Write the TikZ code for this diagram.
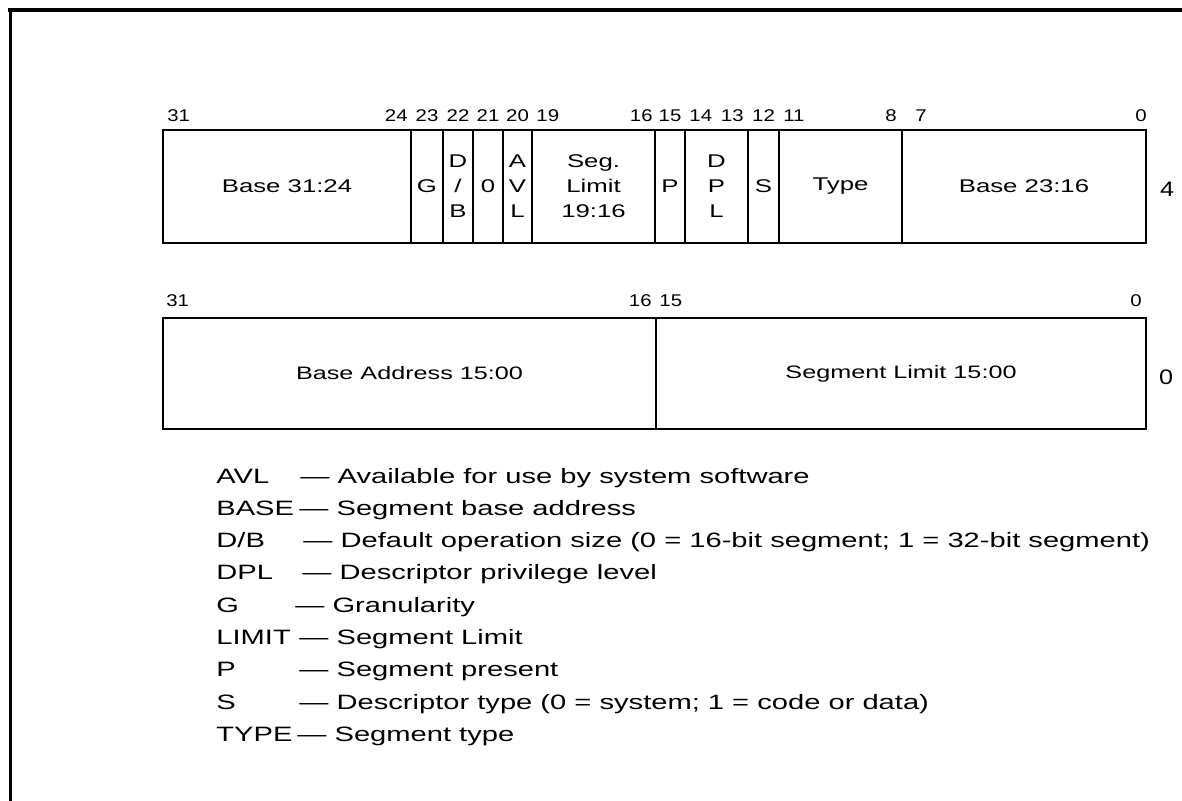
\documentclass[tikz,border=0pt]{standalone}
\usepackage{fontspec}
\setmainfont{Liberation Sans}[FakeStretch=1.4]
\newfontfamily\numfont{Liberation Sans}[FakeStretch=1.2]

\begin{document}
\begin{tikzpicture}[
  x=0.5pt, y=-0.5pt,
  box/.style={draw=black, line width=1pt},
  field/.style={font=\fontsize{9.2}{12.5}\selectfont, align=center, inner sep=0pt},
  wide/.style={font=\fontsize{9}{11}\selectfont, inner sep=0pt},
  bitno/.style={font=\numfont\fontsize{8.5}{10}\selectfont, inner sep=0pt},
  offs/.style={font=\numfont\fontsize{10.5}{12}\selectfont, inner sep=0pt},
  abbr/.style={font=\fontsize{10.4}{12}\selectfont, inner sep=0pt, anchor=base west}
]
\useasboundingbox (0,0) rectangle (1182,801);

% ---- page frame, open to the right and at the bottom
\draw[line width=2pt] (8,10) -- (1182,10);
\draw[line width=1.5pt] (10,9) -- (10,801);

% ---- upper doubleword (offset 4)
\foreach \l/\r/\txt [count=\i] in {163/411/{Base 31:24}, 411/443/G,
    443/473/{D\\/\\B}, 473/503/0, 503/532/{A\\V\\L},
    532/655/{Seg.\\Limit\\19:16}, 655/685/P, 685/748/{D\\P\\L},
    748/779/S, 779/902/Type, 902/1146/{Base 23:16}}
  {
  \draw[box] (\l,130) rectangle (\r,243);
  \node[field] (up\i) at ({(\l+\r)/2},186.5) {\txt};
  }

\foreach \x/\a/\n [count=\i] in {167/base west/31, 408/base east/24,
    427/base/23, 458/base/22, 488/base/21, 517.5/base/20,
    536/base west/19, 653/base east/16, 670/base/15, 689/base west/14,
    744/base east/13, 763.5/base/12, 783/base west/11, 897/base east/8,
    915/base west/7, 1147/base east/0}
  \node[bitno, anchor=\a] (ub\i) at (\x,121.5) {\n};

\node[offs] (off4) at (1167,189) {4};

% ---- lower doubleword (offset 0)
\draw[box] (163,318) rectangle (1146,429);
\draw[line width=0.7pt] (656,318) -- (656,429);
\node[wide] (lo1) at (409.5,373.5) {Base Address 15:00};
\node[wide] (lo2) at (901,373.5) {Segment Limit 15:00};

\foreach \x/\a/\n [count=\i] in {166/base west/31, 652/base east/16,
    659/base west/15, 1142/base east/0}
  \node[bitno, anchor=\a] (lb\i) at (\x,307) {\n};

\node[offs] (off0) at (1166,377) {0};

% ---- legend of field abbreviations
\foreach \k/\dx/\txt [count=\i from 0] in {
    AVL/300/{Available for use by system software},
    BASE/299/{Segment base address},
    {D/B}/303/{Default operation size (0 = 16-bit segment; 1 = 32-bit segment)},
    DPL/302/{Descriptor privilege level},
    G/295/{Granularity},
    LIMIT/299/{Segment Limit},
    P/299/{Segment present},
    S/299/{Descriptor type (0 = system; 1 = code or data)},
    TYPE/297/{Segment type}}
  {
  \node[abbr] (key\i) at (216,{483+32.3*\i}) {\k};
  \node[abbr] (desc\i) at (\dx,{483+32.3*\i}) {— \txt};
  }

\end{tikzpicture}
\end{document}
